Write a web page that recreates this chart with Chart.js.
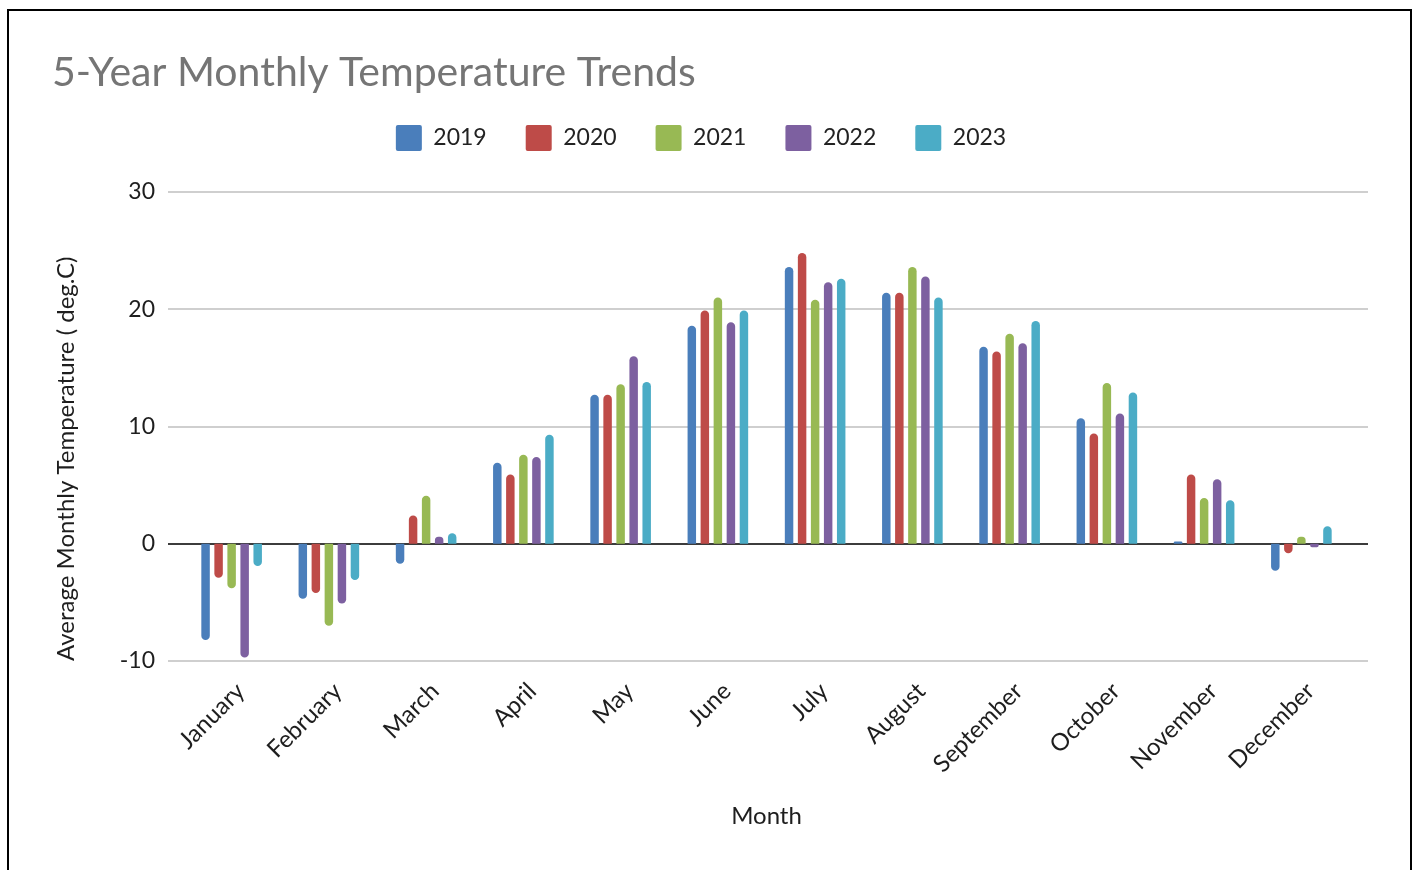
<!DOCTYPE html>
<html>
<head>
<meta charset="utf-8">
<script src="https://cdn.jsdelivr.net/npm/chart.js@4.4.1/dist/chart.umd.min.js"></script>
<style>
  html, body { margin: 0; padding: 0; background: #fff; }
  #wrap { position: relative; width: 1417px; height: 870px; overflow: hidden; }
  #frame { position: absolute; left: 7px; top: 9px; width: 1401px; height: 900px; border: 2px solid #000; pointer-events: none; }
  canvas { position: absolute; left: 0; top: 0; }
</style>
</head>
<body>
<div id="wrap">
  <canvas id="mycanvas" width="1417" height="870"></canvas>
  <div id="frame"></div>
</div>
<script>
var months = ['January','February','March','April','May','June','July','August','September','October','November','December'];
var years = ['2019','2020','2021','2022','2023'];
var t2019 = [-8.2, -4.7, -1.7, 6.9, 12.7, 18.6, 23.6, 21.4, 16.8, 10.7, 0.2, -2.3];
var t2020 = [-2.9, -4.2, 2.4, 5.9, 12.7, 19.9, 24.8, 21.4, 16.4, 9.4, 5.9, -0.8];
var t2021 = [-3.8, -7.0, 4.1, 7.6, 13.6, 21.0, 20.8, 23.6, 17.9, 13.7, 3.9, 0.6];
var t2022 = [-9.7, -5.1, 0.6, 7.4, 16.0, 18.9, 22.3, 22.8, 17.1, 11.1, 5.5, -0.3];
var t2023 = [-1.9, -3.1, 0.9, 9.3, 13.8, 19.9, 22.6, 21.0, 19.0, 12.9, 3.7, 1.5];
var colors = ['#4a7ebb','#be4b48','#98b954','#7d60a0','#4bacc6'];
var series = [t2019, t2020, t2021, t2022, t2023];

var datasets = [];
for (var i = 0; i < years.length; i++) {
	datasets.push({
		label: years[i],
		data: series[i],
		backgroundColor: colors[i],
		borderColor: colors[i],
		borderWidth: 0,
		borderRadius: 5,
		borderSkipped: 'start',
		categoryPercentage: 0.67,
		barPercentage: 0.65
	});
}

// horizontal grid lines, a bit wider than the plot like the original
var gridPlugin = {
	id: 'wideGrid',
	beforeInit: function(chart){
		// leave more room under the legend
		var fit = chart.legend.fit;
		chart.legend.fit = function(){
			fit.call(this);
			this.height += 31;
		};
	},
	beforeDatasetsDraw: function(chart){
		var ctx = chart.ctx;
		var y = chart.scales.y;
		var a = chart.chartArea;
		ctx.save();
		y.ticks.forEach(function(t){
			var py = Math.round(y.getPixelForValue(t.value));
			ctx.beginPath();
			ctx.lineWidth = 2;
			ctx.strokeStyle = t.value === 0 ? '#3c3c3c' : '#cfcfcf';
			ctx.moveTo(a.left - 15, py);
			ctx.lineTo(a.right + 18, py);
			ctx.stroke();
		});
		ctx.restore();
	}
};

Chart.defaults.font.family = 'Lato, "Open Sans", sans-serif';
Chart.defaults.color = '#1e1e1e';

var ctx = document.getElementById('mycanvas');
var barGraph = new Chart(ctx, {
	type: 'bar',
	data: { labels: months, datasets: datasets },
	plugins: [gridPlugin],
	options: {
		responsive: false,
		animation: false,
		layout: { padding: { top: 52, left: 52, right: 67, bottom: 20 } },
		plugins: {
			tooltip: { enabled: false },
			title: {
				display: true,
				text: '5-Year Monthly Temperature Trends',
				align: 'start',
				color: '#757575',
				font: { size: 41, weight: 'normal', lineHeight: 1.0 },
				padding: { top: 0, bottom: -7 }
			},
			legend: {
				display: true,
				position: 'top',
				labels: {
					boxWidth: 26,
					boxHeight: 26,
					padding: 39,
					useBorderRadius: true,
					borderRadius: 2,
					color: '#222',
					font: { size: 23 }
				}
			}
		},
		scales: {
			x: {
				grid: { display: false },
				border: { display: false },
				ticks: { maxRotation: 45, minRotation: 45, padding: 8, labelOffset: 9, color: '#1e1e1e', font: { size: 24 } },
				title: { display: true, text: 'Month', color: '#1e1e1e', font: { size: 24 }, padding: { top: 0, bottom: 19 } },
				afterFit: function(s){ s.height = 189; }
			},
			y: {
				min: -10,
				max: 30,
				grid: { display: false },
				border: { display: false },
				ticks: { stepSize: 10, padding: 20, color: '#1e1e1e', font: { size: 23 } },
				title: { display: true, text: 'Average Monthly Temperature ( deg.C)', align: 'start', color: '#1e1e1e', font: { size: 24 }, padding: { top: 0, bottom: 0 } },
				afterFit: function(s){ s.width = 131; }
			}
		}
	}
});
</script>
</body>
</html>
